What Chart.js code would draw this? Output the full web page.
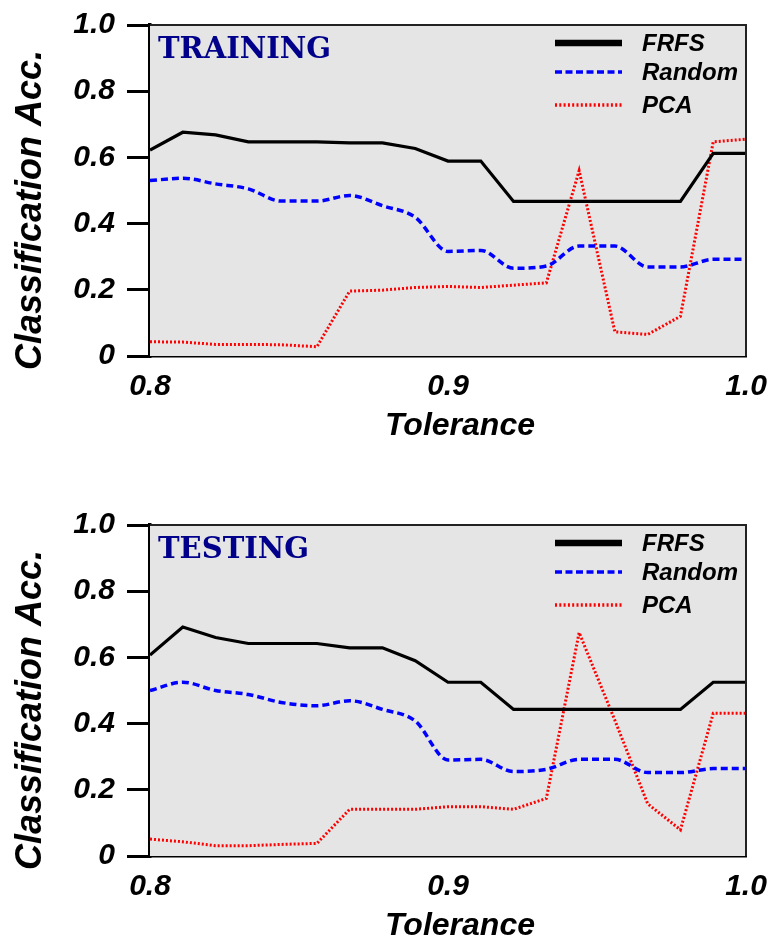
<!DOCTYPE html>
<html>
<head>
<meta charset="utf-8">
<title>Classification accuracy vs tolerance</title>
<script src="https://cdn.jsdelivr.net/npm/chart.js@4.4.1/dist/chart.umd.min.js"></script>
<style>
  html, body { margin: 0; padding: 0; background: #fff; }
  #wrap { position: relative; width: 773px; height: 943px; }
  canvas { position: absolute; left: 0; }
  #trainChart { top: 0; }
  #testChart { top: 500px; }
</style>
</head>
<body>
<div id="wrap">
  <canvas id="trainChart" width="773" height="500"></canvas>
  <canvas id="testChart" width="773" height="443"></canvas>
</div>
<script>
// Tolerance values (x axis)
const tolerance = [0.8, 0.811, 0.822, 0.833, 0.844, 0.856, 0.867, 0.878, 0.889, 0.9,
                   0.911, 0.922, 0.933, 0.944, 0.956, 0.967, 0.978, 0.989, 1.0];

// Training accuracy
const trainFRFS   = [0.622, 0.676, 0.668, 0.647, 0.647, 0.647, 0.644, 0.644, 0.627, 0.589,
                     0.589, 0.467, 0.467, 0.467, 0.467, 0.467, 0.467, 0.612, 0.612];
const trainRandom = [0.530, 0.537, 0.520, 0.505, 0.468, 0.468, 0.485, 0.454, 0.419, 0.316,
                     0.319, 0.265, 0.272, 0.332, 0.332, 0.269, 0.269, 0.292, 0.292];
const trainPCA    = [0.043, 0.042, 0.035, 0.035, 0.034, 0.028, 0.196, 0.199, 0.207, 0.210,
                     0.207, 0.214, 0.221, 0.560, 0.073, 0.065, 0.120, 0.647, 0.655];

// Testing accuracy
const testFRFS   = [0.607, 0.692, 0.660, 0.642, 0.642, 0.642, 0.629, 0.629, 0.590, 0.525,
                    0.525, 0.443, 0.443, 0.443, 0.443, 0.443, 0.443, 0.525, 0.525];
const testRandom = [0.500, 0.525, 0.500, 0.488, 0.464, 0.454, 0.469, 0.443, 0.408, 0.290,
                    0.292, 0.255, 0.262, 0.292, 0.292, 0.252, 0.252, 0.264, 0.264];
const testPCA    = [0.051, 0.043, 0.031, 0.031, 0.035, 0.038, 0.141, 0.141, 0.141, 0.149,
                    0.149, 0.141, 0.174, 0.675, 0.410, 0.158, 0.079, 0.431, 0.431];

// Axis ticks
const yTicks = [0, 0.2, 0.4, 0.6, 0.8, 1.0];
const xTicks = [0.8, 0.9, 1.0];

const seriesNames = ['FRFS', 'Random', 'PCA'];
const xTitle = 'Tolerance';
const yTitle = 'Classification Acc.';

const SANS = "'Liberation Sans', Arial, Helvetica, sans-serif";

function toPoints(ys) {
  return ys.map((y, i) => ({ x: tolerance[i], y: y }));
}

// Grey plot background + thin top/right frame
const frame = {
  id: 'frame',
  beforeDatasetsDraw(chart) {
    const { ctx, chartArea: a } = chart;
    ctx.save();
    ctx.fillStyle = '#e5e5e5';
    ctx.fillRect(a.left, a.top, a.right - a.left, a.bottom - a.top);
    ctx.restore();
  },
  afterDatasetsDraw(chart) {
    const { ctx, chartArea: a } = chart;
    ctx.save();
    ctx.strokeStyle = '#222';
    ctx.lineWidth = 2;
    ctx.beginPath();
    ctx.moveTo(a.left, a.top);
    ctx.lineTo(a.right, a.top);
    ctx.lineTo(a.right, a.bottom);
    ctx.stroke();
    ctx.restore();
  }
};

// Panel label, legend and axis titles
const labels = {
  id: 'labels',
  afterDraw(chart, args, opts) {
    const { ctx, chartArea: a } = chart;
    ctx.save();

    // panel name
    ctx.fillStyle = '#00008b';
    ctx.font = "bold 29px 'DejaVu Serif', serif";
    ctx.textBaseline = 'alphabetic';
    ctx.textAlign = 'left';
    ctx.fillText(opts.panel, a.left + 8, a.top + 33);

    // legend
    const rows = [a.top + 18, a.top + 47, a.top + 80];
    chart.data.datasets.forEach((ds, i) => {
      const y = rows[i];
      ctx.strokeStyle = ds.borderColor;
      ctx.lineWidth = i === 0 ? 6.5 : 3.5;
      ctx.setLineDash(i === 0 ? [] : (i === 1 ? [7, 3.5] : [2, 2.3]));
      ctx.beginPath();
      ctx.moveTo(555, y);
      ctx.lineTo(622, y);
      ctx.stroke();
      ctx.setLineDash([]);
      ctx.fillStyle = '#000';
      ctx.font = 'italic bold 24px ' + SANS;
      ctx.textBaseline = 'middle';
      ctx.fillText(ds.label, 642, y + 1);
    });

    // axis titles
    ctx.fillStyle = '#000';
    ctx.textAlign = 'center';
    ctx.textBaseline = 'middle';
    ctx.font = 'italic bold 32px ' + SANS;
    ctx.fillText(xTitle, 460, opts.xTitleY);

    ctx.translate(31, 210);
    ctx.rotate(-Math.PI / 2);
    ctx.font = 'italic bold 36px ' + SANS;
    ctx.fillText(yTitle, 0, 0);
    ctx.restore();
  }
};

function makeChart(id, panel, frfs, random, pca) {
  const canvas = document.getElementById(id);
  const H = canvas.height;
  return new Chart(canvas.getContext('2d'), {
    type: 'line',
    data: {
      datasets: [
        { label: seriesNames[0], data: toPoints(frfs), borderColor: '#000000',
          borderWidth: 3.2, pointRadius: 0, tension: 0 },
        { label: seriesNames[1], data: toPoints(random), borderColor: '#0000ff',
          borderWidth: 3.5, borderDash: [7, 4], pointRadius: 0,
          cubicInterpolationMode: 'monotone' },
        { label: seriesNames[2], data: toPoints(pca), borderColor: '#ff0000',
          borderWidth: 3, borderDash: [2, 2], pointRadius: 0, tension: 0 }
      ]
    },
    options: {
      responsive: false,
      animation: false,
      devicePixelRatio: 1,
      layout: { padding: { top: 25, right: 27, left: 0, bottom: 0 } },
      plugins: {
        legend: { display: false },
        tooltip: { enabled: false },
        labels: { panel: panel, xTitleY: 426 }
      },
      scales: {
        x: {
          type: 'linear',
          min: 0.8,
          max: 1.0,
          afterBuildTicks: (s) => { s.ticks = xTicks.map(v => ({ value: v })); },
          afterFit: (s) => {
            s.height = H - 356;
            s.paddingLeft = 0;
            s.paddingRight = 0;
          },
          grid: { display: false, drawTicks: false },
          border: { display: true, color: '#000', width: 3.5 },
          ticks: {
            color: '#000',
            padding: 13,
            maxRotation: 0,
            autoSkip: false,
            font: { family: SANS, size: 30, style: 'italic', weight: 'bold' },
            callback: (v) => Number(v).toFixed(1)
          }
        },
        y: {
          min: 0,
          max: 1,
          afterBuildTicks: (s) => { s.ticks = yTicks.map(v => ({ value: v })); },
          afterFit: (s) => {
            s.width = 150;
            s.paddingTop = 0;
            s.paddingBottom = 0;
          },
          grid: { display: true, drawOnChartArea: false, drawTicks: true,
                  tickLength: 23, lineWidth: 3, color: '#000' },
          border: { display: true, color: '#000', width: 3.5 },
          ticks: {
            color: '#000',
            padding: 12,
            font: { family: SANS, size: 30, style: 'italic', weight: 'bold' },
            callback: (v) => v === 0 ? '0' : Number(v).toFixed(1)
          }
        }
      }
    },
    plugins: [frame, labels]
  });
}

makeChart('trainChart', 'TRAINING', trainFRFS, trainRandom, trainPCA);
makeChart('testChart', 'TESTING', testFRFS, testRandom, testPCA);
</script>
</body>
</html>
